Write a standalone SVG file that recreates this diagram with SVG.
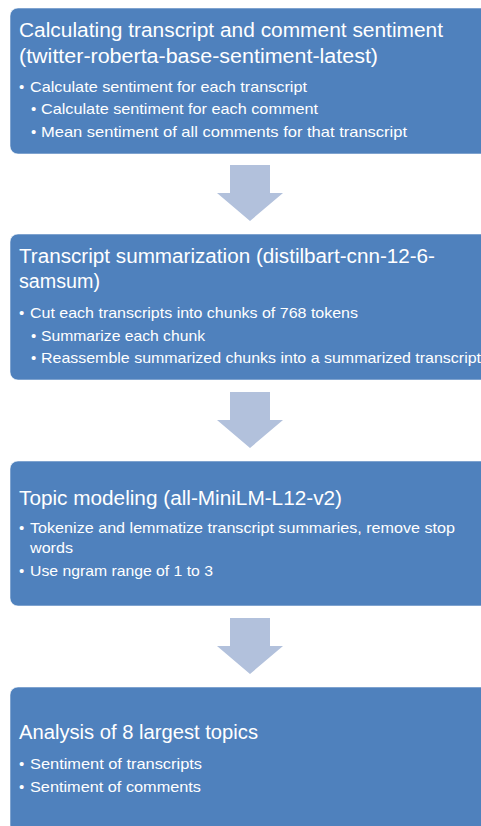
<svg xmlns="http://www.w3.org/2000/svg" width="481" height="826" viewBox="0 0 481 826">
  <style>
    .box { fill: #4F81BD; stroke: #ffffff; stroke-opacity: 0.55; stroke-width: 1; }
    .arrow { fill: #B2C1DC; }
    .title { font-family: "Liberation Sans", Arial, sans-serif; font-size: 20px; fill: #ffffff; }
    .item { font-family: "Liberation Sans", Arial, sans-serif; font-size: 15px; fill: #ffffff; }
    .dot { font-family: "Liberation Sans", Arial, sans-serif; font-size: 15px; fill: #ffffff; }
  </style>
  <rect width="481" height="826" fill="#ffffff"/>

  <!-- connectors: block arrows between stages -->
  <g id="connectors">
    <path class="arrow" d="M230,165 H270 V193 H283 L250,221 L217,193 H230 Z"/>
    <path class="arrow" d="M230,392 H270 V420 H283 L250,448 L217,420 H230 Z"/>
    <path class="arrow" d="M230,618 H270 V646 H283 L250,674 L217,646 H230 Z"/>
  </g>

  <!-- stage 1 -->
  <g id="sentiment">
    <rect class="box" x="10" y="8" width="480" height="146" rx="8"/>
    <text class="title" x="19" y="37" textLength="424" lengthAdjust="spacingAndGlyphs">Calculating transcript and comment sentiment</text>
    <text class="title" x="19" y="63" textLength="359" lengthAdjust="spacingAndGlyphs">(twitter-roberta-base-sentiment-latest)</text>
    <text class="dot" x="19" y="92">•</text>
    <text class="item" x="30" y="92" textLength="277" lengthAdjust="spacingAndGlyphs">Calculate sentiment for each transcript</text>
    <text class="dot" x="31" y="114">•</text>
    <text class="item" x="41" y="114" textLength="277" lengthAdjust="spacingAndGlyphs">Calculate sentiment for each comment</text>
    <text class="dot" x="31" y="137">•</text>
    <text class="item" x="41" y="137" textLength="366" lengthAdjust="spacingAndGlyphs">Mean sentiment of all comments for that transcript</text>
  </g>

  <!-- stage 2 -->
  <g id="summarization">
    <rect class="box" x="10" y="234" width="480" height="146" rx="8"/>
    <text class="title" x="19" y="263" textLength="416" lengthAdjust="spacingAndGlyphs">Transcript summarization (distilbart-cnn-12-6-</text>
    <text class="title" x="19" y="288" textLength="81" lengthAdjust="spacingAndGlyphs">samsum)</text>
    <text class="dot" x="19" y="318">•</text>
    <text class="item" x="30" y="318" textLength="328" lengthAdjust="spacingAndGlyphs">Cut each transcripts into chunks of 768 tokens</text>
    <text class="dot" x="31" y="341">•</text>
    <text class="item" x="41" y="341" textLength="164" lengthAdjust="spacingAndGlyphs">Summarize each chunk</text>
    <text class="dot" x="31" y="363">•</text>
    <text class="item" x="41" y="363" textLength="440" lengthAdjust="spacingAndGlyphs">Reassemble summarized chunks into a summarized transcript</text>
  </g>

  <!-- stage 3 -->
  <g id="topic-modeling">
    <rect class="box" x="10" y="461" width="480" height="145" rx="8"/>
    <text class="title" x="19" y="505" textLength="323" lengthAdjust="spacingAndGlyphs">Topic modeling (all-MiniLM-L12-v2)</text>
    <text class="dot" x="19" y="533">•</text>
    <text class="item" x="30" y="533" textLength="425" lengthAdjust="spacingAndGlyphs">Tokenize and lemmatize transcript summaries, remove stop</text>
    <text class="item" x="30" y="553" textLength="43" lengthAdjust="spacingAndGlyphs">words</text>
    <text class="dot" x="19" y="576">•</text>
    <text class="item" x="30" y="576" textLength="183" lengthAdjust="spacingAndGlyphs">Use ngram range of 1 to 3</text>
  </g>

  <!-- stage 4 -->
  <g id="analysis">
    <rect class="box" x="10" y="687" width="480" height="146" rx="8"/>
    <text class="title" x="19" y="739" textLength="239" lengthAdjust="spacingAndGlyphs">Analysis of 8 largest topics</text>
    <text class="dot" x="19" y="769">•</text>
    <text class="item" x="30" y="769" textLength="172" lengthAdjust="spacingAndGlyphs">Sentiment of transcripts</text>
    <text class="dot" x="19" y="792">•</text>
    <text class="item" x="30" y="792" textLength="171" lengthAdjust="spacingAndGlyphs">Sentiment of comments</text>
  </g>
</svg>
